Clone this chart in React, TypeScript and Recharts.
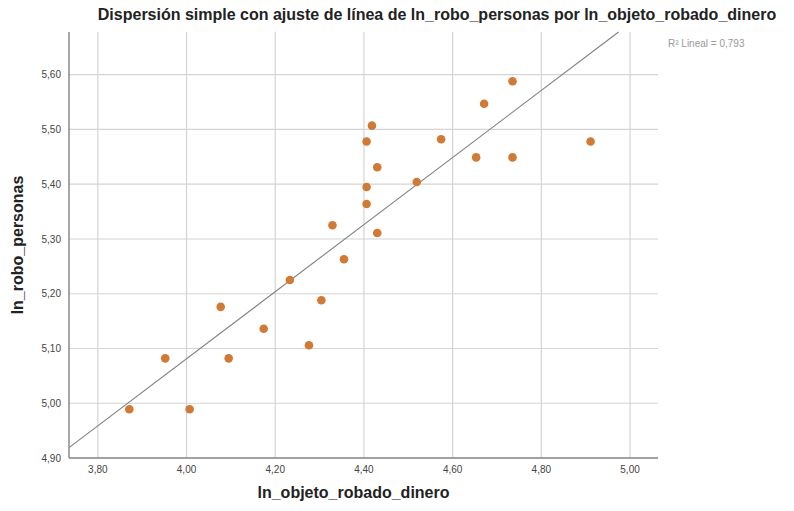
import { ScatterChart, Scatter, XAxis, YAxis, CartesianGrid, ReferenceLine } from 'recharts';

// ln_objeto_robado_dinero (x) / ln_robo_personas (y)
const xValues = [
  4.735, 4.671, 4.418, 4.406, 4.574, 4.911, 4.653, 4.735, 4.43, 4.519, 4.406, 4.406,
  4.329, 4.43, 4.355, 4.233, 4.304, 4.077, 4.174, 4.276, 3.952, 4.095, 3.871, 4.007,
];
const yValues = [
  5.588, 5.547, 5.507, 5.478, 5.482, 5.478, 5.449, 5.449, 5.431, 5.404, 5.395, 5.364,
  5.325, 5.311, 5.263, 5.225, 5.188, 5.176, 5.136, 5.106, 5.082, 5.082, 4.989, 4.989,
];
const xTicks = [3.8, 4.0, 4.2, 4.4, 4.6, 4.8, 5.0];
const yTicks = [4.9, 5.0, 5.1, 5.2, 5.3, 5.4, 5.5, 5.6];
const xDomain: [number, number] = [3.735, 5.063];
const yDomain: [number, number] = [4.9, 5.678];

const points = xValues.map((x, i) => ({ x, y: yValues[i] }));

// least squares fit line, clipped to the plot box
const n = xValues.length;
const mx = xValues.reduce((a, b) => a + b, 0) / n;
const my = yValues.reduce((a, b) => a + b, 0) / n;
let sxy = 0;
let sxx = 0;
xValues.forEach((x, i) => {
  sxy += (x - mx) * (yValues[i] - my);
  sxx += (x - mx) * (x - mx);
});
const slope = sxy / sxx;
const icpt = my - slope * mx;
const fitY = (x: number) => icpt + slope * x;
const x0 = xDomain[0];
const y0 = fitY(x0);
const x1 = fitY(xDomain[1]) > yDomain[1] ? (yDomain[1] - icpt) / slope : xDomain[1];
const y1 = fitY(x1);

const fmt = (v: number) => v.toFixed(2).replace('.', ',');
const font = '"Liberation Sans", Arial, sans-serif';

// grid only at the tick values (no border lines at the plot edges)
const hLines = ({ offset }: any) =>
  yTicks.map((t) => offset.top + offset.height * (1 - (t - yDomain[0]) / (yDomain[1] - yDomain[0])));
const vLines = ({ offset }: any) =>
  xTicks.map((t) => offset.left + offset.width * ((t - xDomain[0]) / (xDomain[1] - xDomain[0])));

export default function App() {
  return (
    <div style={{ position: 'absolute', left: 0, top: 0, width: 794, height: 511, background: '#fff', fontFamily: font }}>
      <div style={{ position: 'absolute', left: 0, width: 874, top: 6, textAlign: 'center', fontSize: 16, fontWeight: 'bold', color: '#222', whiteSpace: 'nowrap' }}>
        Dispersión simple con ajuste de línea de ln_robo_personas por ln_objeto_robado_dinero
      </div>
      <div style={{ position: 'absolute', left: 668, top: 38, fontSize: 10, color: '#999', whiteSpace: 'nowrap' }}>
        R² Lineal = 0,793
      </div>
      <ScatterChart width={794} height={511} margin={{ top: 32, right: 136, left: 9, bottom: 8 }}>
        <CartesianGrid
          stroke="#d4d4d4"
          strokeWidth={1.2}
          horizontalCoordinatesGenerator={hLines}
          verticalCoordinatesGenerator={vLines}
        />
        <XAxis
          type="number"
          dataKey="x"
          domain={xDomain}
          ticks={xTicks}
          allowDataOverflow
          height={45}
          tickLine={false}
          stroke="#888"
          strokeWidth={1.5}
          tick={{ fill: '#444', fontSize: 10, fontFamily: font }}
          tickFormatter={fmt}
        />
        <YAxis
          type="number"
          dataKey="y"
          domain={yDomain}
          ticks={yTicks}
          allowDataOverflow
          width={60}
          tickLine={false}
          stroke="#888"
          strokeWidth={1.5}
          tick={{ fill: '#444', fontSize: 10, fontFamily: font }}
          tickFormatter={fmt}
        />
        <ReferenceLine
          segment={[{ x: x0, y: y0 }, { x: x1, y: y1 }]}
          stroke="#808080"
          strokeWidth={1.1}
        />
        <Scatter data={points} fill="#d07a36" isAnimationActive={false} shape={(p: any) => <circle cx={p.cx} cy={p.cy} r={4.3} fill="#d07a36" />} />
      </ScatterChart>
      <div style={{ position: 'absolute', left: 253, top: 484, fontSize: 16, fontWeight: 'bold', color: '#222', whiteSpace: 'nowrap', width: 201, textAlign: 'center' }}>
        ln_objeto_robado_dinero
      </div>
      <div style={{ position: 'absolute', left: 18, top: 245, fontSize: 16, fontWeight: 'bold', color: '#222', whiteSpace: 'nowrap', transform: 'translate(-50%, -50%) rotate(-90deg)' }}>
        ln_robo_personas
      </div>
    </div>
  );
}
